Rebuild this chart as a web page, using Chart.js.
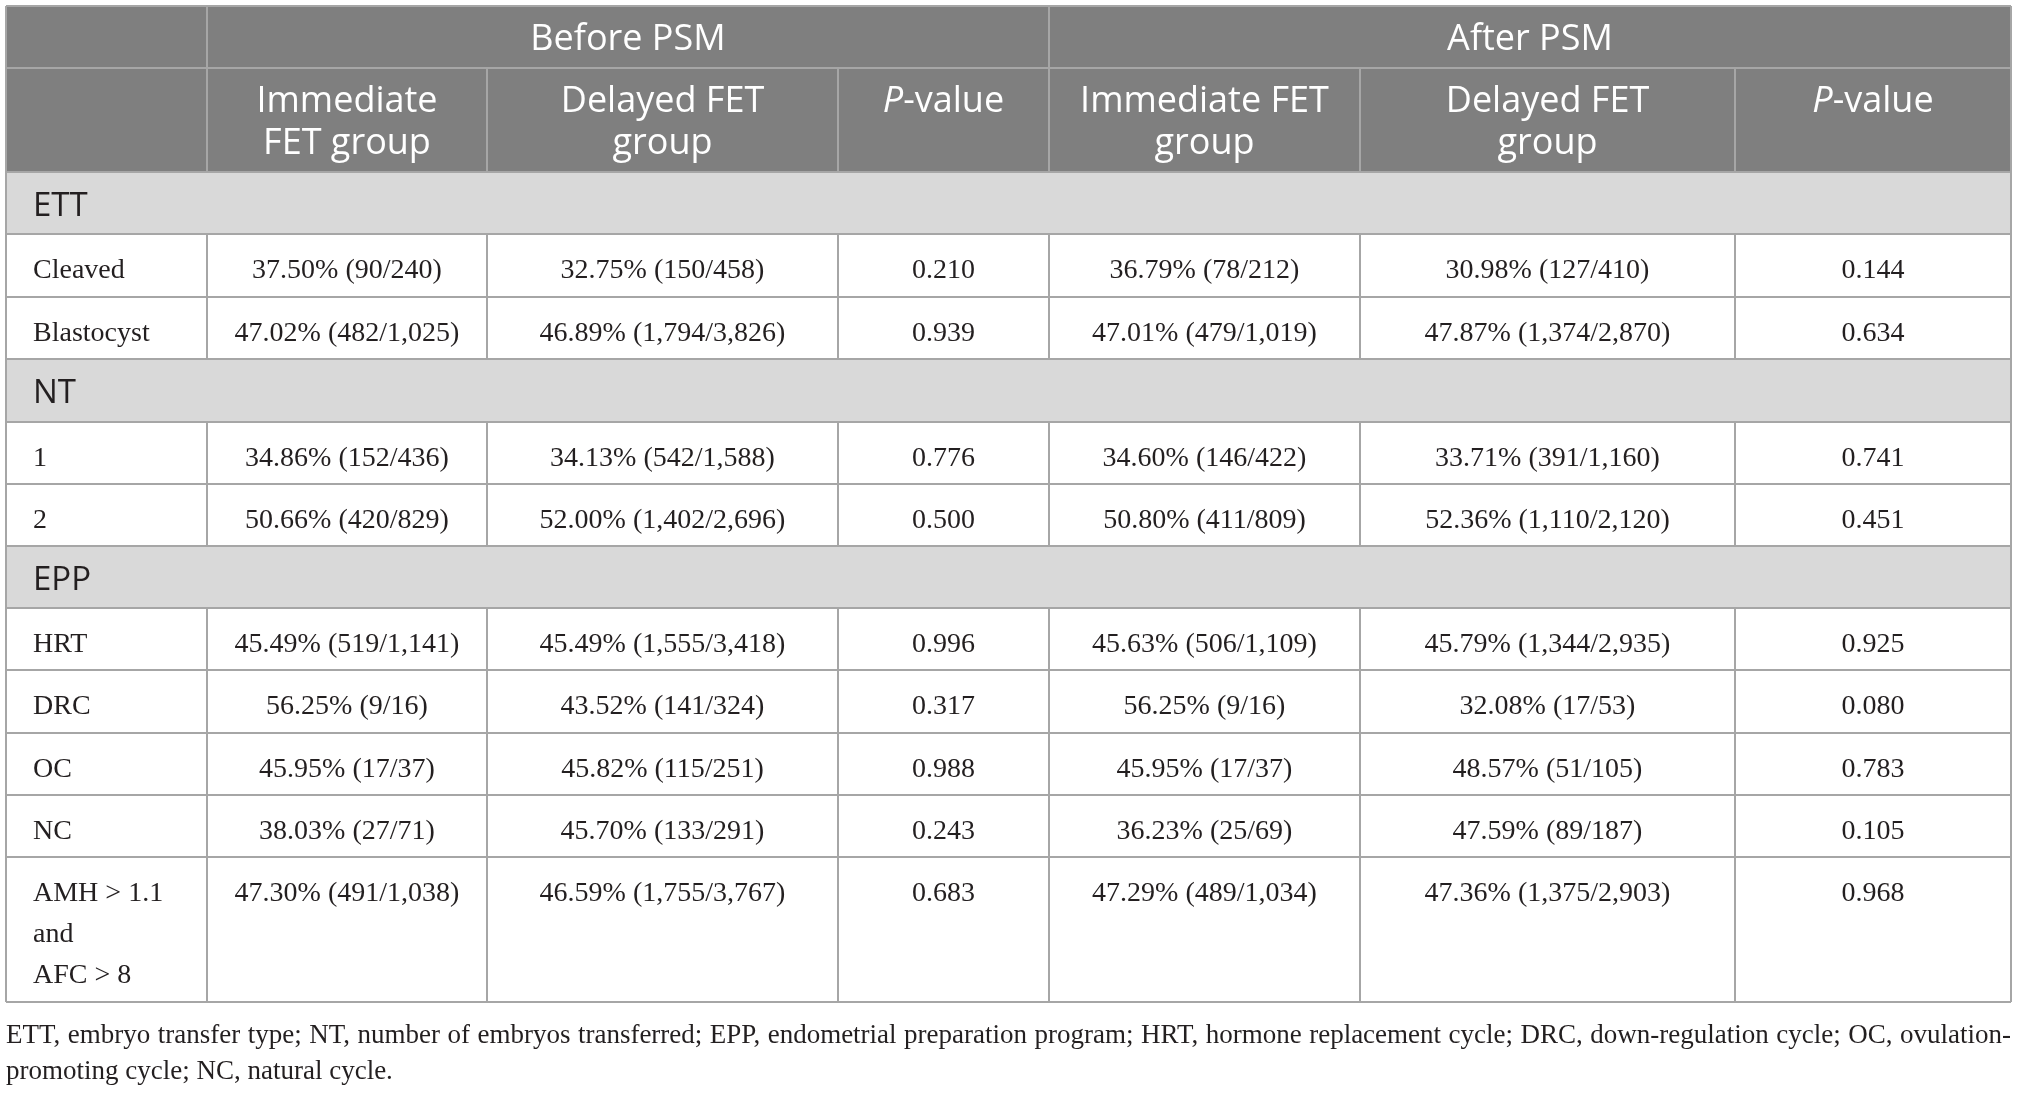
<!DOCTYPE html>
<html>
<head>
<meta charset="utf-8">
<title>Immediate vs delayed FET, before and after PSM</title>
<script src="https://cdn.jsdelivr.net/npm/chart.js@4.4.1/dist/chart.umd.min.js"></script>
<style>
  html, body { margin: 0; padding: 0; background: #fff; }
  #wrap { width: 2018px; height: 1094px; }
</style>
</head>
<body>
<div id="wrap"><canvas id="tbl" width="2018" height="1094"></canvas></div>
<script>
// --- table data ---
const groupHeaders = ["Before PSM", "After PSM"];
const columnHeaders = [
    ["Immediate", "FET group"], ["Delayed FET", "group"], ["P-value"],
    ["Immediate FET", "group"], ["Delayed FET", "group"], ["P-value"]
];
const sectionNames = ["ETT", "NT", "EPP"];
const ettRows = ["Cleaved", "Blastocyst"];
const ntRows = ["1", "2"];
const eppRows = ["HRT", "DRC", "OC", "NC", "AMH > 1.1\nand\nAFC > 8"];

const immediateBefore = ["37.50% (90/240)", "47.02% (482/1,025)", "34.86% (152/436)", "50.66% (420/829)",
    "45.49% (519/1,141)", "56.25% (9/16)", "45.95% (17/37)", "38.03% (27/71)", "47.30% (491/1,038)"];
const delayedBefore = ["32.75% (150/458)", "46.89% (1,794/3,826)", "34.13% (542/1,588)", "52.00% (1,402/2,696)",
    "45.49% (1,555/3,418)", "43.52% (141/324)", "45.82% (115/251)", "45.70% (133/291)", "46.59% (1,755/3,767)"];
const pBefore = ["0.210", "0.939", "0.776", "0.500", "0.996", "0.317", "0.988", "0.243", "0.683"];
const immediateAfter = ["36.79% (78/212)", "47.01% (479/1,019)", "34.60% (146/422)", "50.80% (411/809)",
    "45.63% (506/1,109)", "56.25% (9/16)", "45.95% (17/37)", "36.23% (25/69)", "47.29% (489/1,034)"];
const delayedAfter = ["30.98% (127/410)", "47.87% (1,374/2,870)", "33.71% (391/1,160)", "52.36% (1,110/2,120)",
    "45.79% (1,344/2,935)", "32.08% (17/53)", "48.57% (51/105)", "47.59% (89/187)", "47.36% (1,375/2,903)"];
const pAfter = ["0.144", "0.634", "0.741", "0.451", "0.925", "0.080", "0.783", "0.105", "0.968"];

const footnote = "ETT, embryo transfer type; NT, number of embryos transferred; EPP, endometrial preparation program; " +
    "HRT, hormone replacement cycle; DRC, down-regulation cycle; OC, ovulation-|promoting cycle; NC, natural cycle.";

// --- layout (in table units, mapped through the chart scales) ---
const W = 2018, H = 1094;
const colEdges = [6, 207, 487, 838, 1049, 1360, 1735, 2011];
const rowEdges = [6, 68, 172, 234, 297, 359, 422, 484, 546, 608, 670, 733, 795, 857, 1002];
const HEAD_BG = "#7f7f7f", SECTION_BG = "#d9d9d9", LINE = "#a6a6a6", INK = "#231f20";
const SANS = "'Open Sans', 'Noto Sans', sans-serif";
const SERIF = "'Liberation Serif', 'DejaVu Serif', serif";

// body rows in drawing order
const sectionRows = [ettRows, ntRows, eppRows];
const valueCols = [immediateBefore, delayedBefore, pBefore, immediateAfter, delayedAfter, pAfter];
const bodyRows = [];
let dataIdx = 0;
sectionNames.forEach((name, s) => {
    bodyRows.push({ type: "section", label: name });
    sectionRows[s].forEach(label => {
        bodyRows.push({ type: "data", label: label, values: valueCols.map(col => col[dataIdx]) });
        dataIdx++;
    });
});

function drawJustified(ctx, text, x0, x1, y, size) {
    const words = text.split(" ");
    let gap;
    do {
        ctx.font = size + "px " + SERIF;
        const total = words.reduce((s, w) => s + ctx.measureText(w).width, 0);
        gap = (x1 - x0 - total) / (words.length - 1);
        if (gap < size * 0.18) size -= 0.25;
    } while (gap < size * 0.18 && size > 10);
    let x = x0;
    words.forEach(w => {
        ctx.fillText(w, x, y);
        x += ctx.measureText(w).width + gap;
    });
    return size;
}

const tablePlugin = {
    id: "tablePlugin",
    beforeDraw(chart) {
        const ctx = chart.ctx;
        const sx = v => chart.scales.x.getPixelForValue(v);
        const sy = v => chart.scales.y.getPixelForValue(v);
        const left = colEdges[0], right = colEdges[colEdges.length - 1];

        ctx.save();
        ctx.fillStyle = "#fff";
        ctx.fillRect(0, 0, chart.width, chart.height);

        // header background
        ctx.fillStyle = HEAD_BG;
        ctx.fillRect(sx(left), sy(rowEdges[0]), sx(right) - sx(left), sy(rowEdges[2]) - sy(rowEdges[0]));

        // section backgrounds
        bodyRows.forEach((r, i) => {
            if (r.type !== "section") return;
            const top = rowEdges[i + 2], bot = rowEdges[i + 3];
            ctx.fillStyle = SECTION_BG;
            ctx.fillRect(sx(left), sy(top), sx(right) - sx(left), sy(bot) - sy(top));
        });

        // grid lines
        ctx.strokeStyle = LINE;
        ctx.lineWidth = 2;
        const hline = (y, x0, x1) => { ctx.beginPath(); ctx.moveTo(sx(x0), sy(y)); ctx.lineTo(sx(x1), sy(y)); ctx.stroke(); };
        const vline = (x, y0, y1) => { ctx.beginPath(); ctx.moveTo(sx(x), sy(y0)); ctx.lineTo(sx(x), sy(y1)); ctx.stroke(); };
        rowEdges.forEach(y => hline(y, left, right));
        vline(left, rowEdges[0], rowEdges[rowEdges.length - 1]);
        vline(right, rowEdges[0], rowEdges[rowEdges.length - 1]);
        vline(colEdges[1], rowEdges[0], rowEdges[1]);
        vline(colEdges[4], rowEdges[0], rowEdges[1]);
        for (let c = 1; c < colEdges.length - 1; c++) vline(colEdges[c], rowEdges[1], rowEdges[2]);
        bodyRows.forEach((r, i) => {
            if (r.type !== "data") return;
            for (let c = 1; c < colEdges.length - 1; c++) vline(colEdges[c], rowEdges[i + 2], rowEdges[i + 3]);
        });

        // header text
        ctx.fillStyle = "#fff";
        ctx.textBaseline = "alphabetic";
        ctx.font = "36px " + SANS;
        ctx.textAlign = "center";
        groupHeaders.forEach((g, i) => {
            const a = colEdges[1 + i * 3], b = colEdges[4 + i * 3];
            ctx.fillText(g, sx((a + b) / 2), sy(rowEdges[0] + 44));
        });
        columnHeaders.forEach((lines, c) => {
            const cx = (colEdges[c + 1] + colEdges[c + 2]) / 2;
            lines.forEach((ln, k) => {
                const y = sy(rowEdges[1] + 44 + k * 41.5);
                if (ln === "P-value") {
                    ctx.textAlign = "left";
                    ctx.font = "italic 36px " + SANS;
                    const wP = ctx.measureText("P").width;
                    ctx.font = "36px " + SANS;
                    const wRest = ctx.measureText("-value").width;
                    const x0 = sx(cx) - (wP + wRest) / 2;
                    ctx.font = "italic 36px " + SANS;
                    ctx.fillText("P", x0, y);
                    ctx.font = "36px " + SANS;
                    ctx.fillText("-value", x0 + wP, y);
                    ctx.textAlign = "center";
                } else {
                    ctx.fillText(ln, sx(cx), y);
                }
            });
        });

        // body text
        bodyRows.forEach((r, i) => {
            const top = rowEdges[i + 2];
            ctx.fillStyle = INK;
            if (r.type === "section") {
                ctx.textAlign = "left";
                ctx.font = "33px " + SANS;
                ctx.fillText(r.label, sx(33), sy(top + 44));
                return;
            }
            ctx.font = "28px " + SERIF;
            ctx.textAlign = "left";
            r.label.split("\n").forEach((ln, k) => ctx.fillText(ln, sx(33), sy(top + 44 + k * 41)));
            ctx.textAlign = "center";
            r.values.forEach((v, c) => {
                const cx = (colEdges[c + 1] + colEdges[c + 2]) / 2;
                ctx.fillText(v, sx(cx), sy(top + 44));
            });
        });

        // footnote
        const [line1, line2] = footnote.split("|");
        ctx.textAlign = "left";
        ctx.fillStyle = INK;
        const size = drawJustified(ctx, line1, sx(left), sx(right), sy(1043), 27);
        ctx.font = size + "px " + SERIF;
        ctx.fillText(line2, sx(left), sy(1079));
        ctx.restore();
    }
};

new Chart(document.getElementById("tbl"), {
    type: "scatter",
    data: { datasets: [{ data: [], pointRadius: 0 }] },
    options: {
        responsive: false,
        animation: false,
        devicePixelRatio: 1,
        layout: { padding: 0 },
        events: [],
        plugins: { legend: { display: false }, tooltip: { enabled: false } },
        scales: {
            x: { type: "linear", min: 0, max: W, display: false },
            y: { type: "linear", min: 0, max: H, reverse: true, display: false }
        }
    },
    plugins: [tablePlugin]
});
</script>
</body>
</html>
